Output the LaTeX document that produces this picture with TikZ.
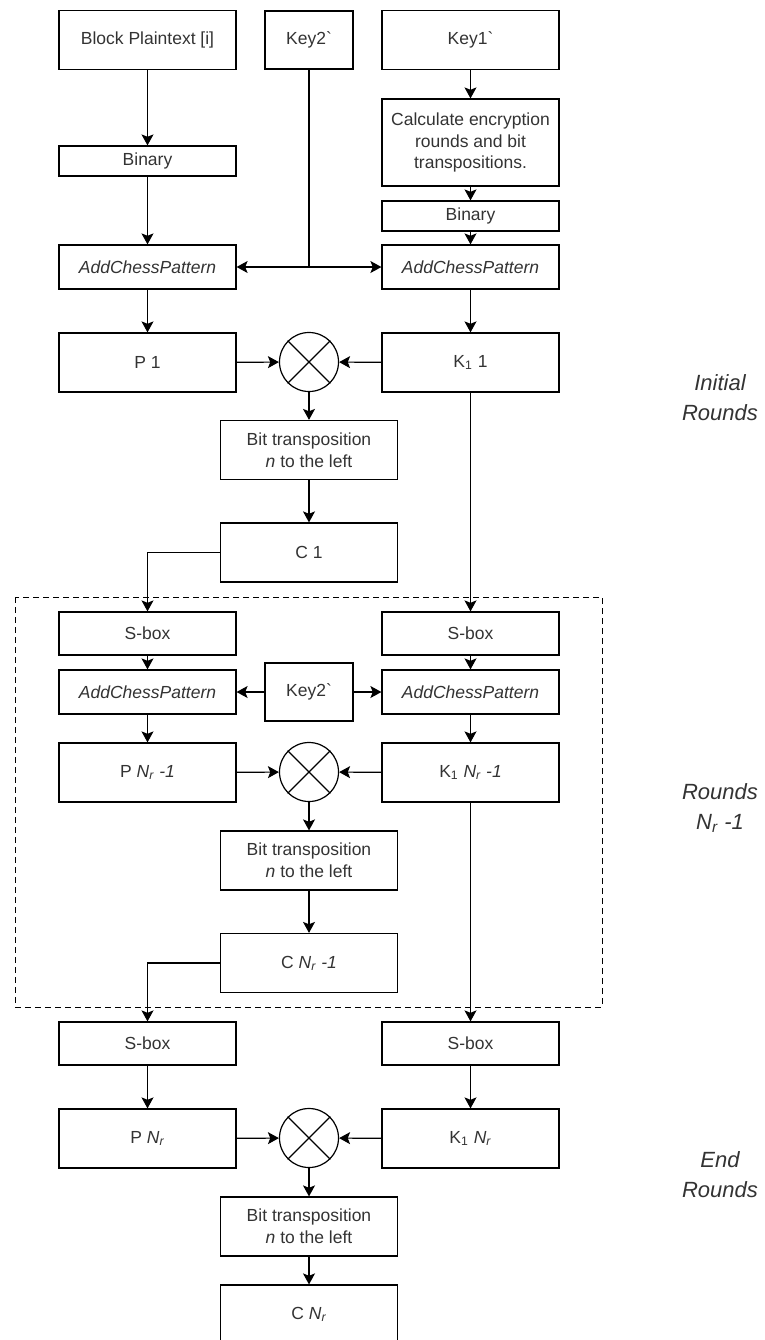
\documentclass[tikz,border=0pt]{standalone}
\usepackage{fontspec}
\setmainfont{Liberation Sans}
\usetikzlibrary{arrows.meta}
\definecolor{txtgray}{HTML}{333333}

\tikzset{
  blk/.style={draw, rectangle, line width=0.6pt, text=txtgray, align=center,
    minimum width=88.5pt, minimum height=29.5pt, inner sep=1pt,
    font=\fontsize{8.75}{10.8}\selectfont},
  thinblk/.style={blk, minimum height=15pt},
  midblk/.style={blk, minimum height=22pt},
  keyblk/.style={blk, minimum width=44pt, minimum height=29pt},
  xor/.style={draw, circle, line width=0.6pt, minimum size=29.5pt, inner sep=0pt},
  conn/.style={line width=0.6pt, -{Stealth[length=5.5pt, width=6pt, inset=1.2pt]}},
  roundlbl/.style={align=center, text=txtgray, font=\fontsize{11}{15}\selectfont\itshape}
}

\begin{document}
\begin{tikzpicture}[x=0.5pt, y=-0.5pt]
\useasboundingbox (0,0) rectangle (765,1340);

\node [blk] (plain) at (147.5,40) {Block Plaintext [i]};
\node [keyblk] (keya) at (309,40) {Key2\textasciigrave};
\node [blk] (keyb) at (470.5,40) {Key1\textasciigrave};
\node [thinblk] (binl) at (147.5,161) {Binary};
\node [blk, minimum height=43.5pt] (calc) at (470.5,142.5) {Calculate encryption\\rounds and bit\\transpositions.};
\node [thinblk] (binr) at (470.5,216) {Binary};
\node [midblk] (acpa) at (147.5,267) {\textit{AddChessPattern}};
\node [midblk] (acpb) at (470.5,267) {\textit{AddChessPattern}};
\coordinate (split) at (309,267);

\node [blk] (pa) at (147.5,362.5) {P 1};
\node [xor] (xa) at (309,362) {};
\node [blk] (ka) at (470.5,362.5) {K\textsubscript{1} 1};
\node [blk] (bta) at (309,450) {Bit transposition\\\textit{n} to the left};
\node [blk] (ca) at (309,552.5) {C 1};

\draw [line width=0.5pt, dashed, dash pattern=on 3pt off 2pt] (15,597) rectangle (602,1007);

\node [midblk, minimum height=21.5pt] (sba) at (147.5,633.5) {S-box};
\node [midblk, minimum height=21.5pt] (sbb) at (470.5,633.5) {S-box};
\node [midblk] (acpc) at (147.5,692) {\textit{AddChessPattern}};
\node [keyblk] (keyc) at (309,692) {Key2\textasciigrave};
\node [midblk] (acpd) at (470.5,692) {\textit{AddChessPattern}};
\node [blk] (pb) at (147.5,772.5) {P \textit{N\textsubscript{r} -1}};
\node [xor] (xb) at (309,772) {};
\node [blk] (kb) at (470.5,772.5) {K\textsubscript{1} \textit{N\textsubscript{r} -1}};
\node [blk] (btb) at (309,860.5) {Bit transposition\\\textit{n} to the left};
\node [blk] (cb) at (309,963) {C \textit{N\textsubscript{r} -1}};

\node [midblk, minimum height=21.5pt] (sbc) at (147.5,1043.5) {S-box};
\node [midblk, minimum height=21.5pt] (sbd) at (470.5,1043.5) {S-box};
\node [blk] (pc) at (147.5,1138.5) {P \textit{N\textsubscript{r}}};
\node [xor] (xc) at (309,1138) {};
\node [blk] (kc) at (470.5,1138.5) {K\textsubscript{1} \textit{N\textsubscript{r}}};
\node [blk] (btc) at (309,1226.5) {Bit transposition\\\textit{n} to the left};
\node [blk] (cc) at (309,1314.5) {C \textit{N\textsubscript{r}}};

\node [roundlbl] (lbla) at (720,398) {Initial\\Rounds};
\node [roundlbl] (lblb) at (720,808) {Rounds\\\textit{N\textsubscript{r} -1}};
\node [roundlbl] (lblc) at (720,1175) {End\\Rounds};

\foreach \x in {xa,xb,xc} {
  \draw [line width=0.6pt] (\x.45) -- (\x.225);
  \draw [line width=0.6pt] (\x.135) -- (\x.315);
}

\path [conn] (plain) edge (binl);
\path [conn] (binl) edge (acpa);
\draw [line width=0.6pt] (keya) -- (split);
\path [conn] (split) edge (acpa);
\path [conn] (split) edge (acpb);
\path [conn] (keyb) edge (calc);
\path [conn] (calc) edge (binr);
\path [conn] (binr) edge (acpb);
\path [conn] (acpa) edge (pa);
\path [conn] (acpb) edge (ka);
\path [conn] (pa) edge (xa);
\path [conn] (ka) edge (xa);
\path [conn] (xa) edge (bta);
\path [conn] (bta) edge (ca);
\draw [conn] (ca.west) -| (sba.north);
\path [conn] (ka) edge (sbb);

\path [conn] (sba) edge (acpc);
\path [conn] (sbb) edge (acpd);
\path [conn] (keyc) edge (acpc);
\path [conn] (keyc) edge (acpd);
\path [conn] (acpc) edge (pb);
\path [conn] (acpd) edge (kb);
\path [conn] (pb) edge (xb);
\path [conn] (kb) edge (xb);
\path [conn] (xb) edge (btb);
\path [conn] (btb) edge (cb);
\draw [conn] (cb.west) -| (sbc.north);
\path [conn] (kb) edge (sbd);

\path [conn] (sbc) edge (pc);
\path [conn] (sbd) edge (kc);
\path [conn] (pc) edge (xc);
\path [conn] (kc) edge (xc);
\path [conn] (xc) edge (btc);
\path [conn] (btc) edge (cc);
\end{tikzpicture}
\end{document}
